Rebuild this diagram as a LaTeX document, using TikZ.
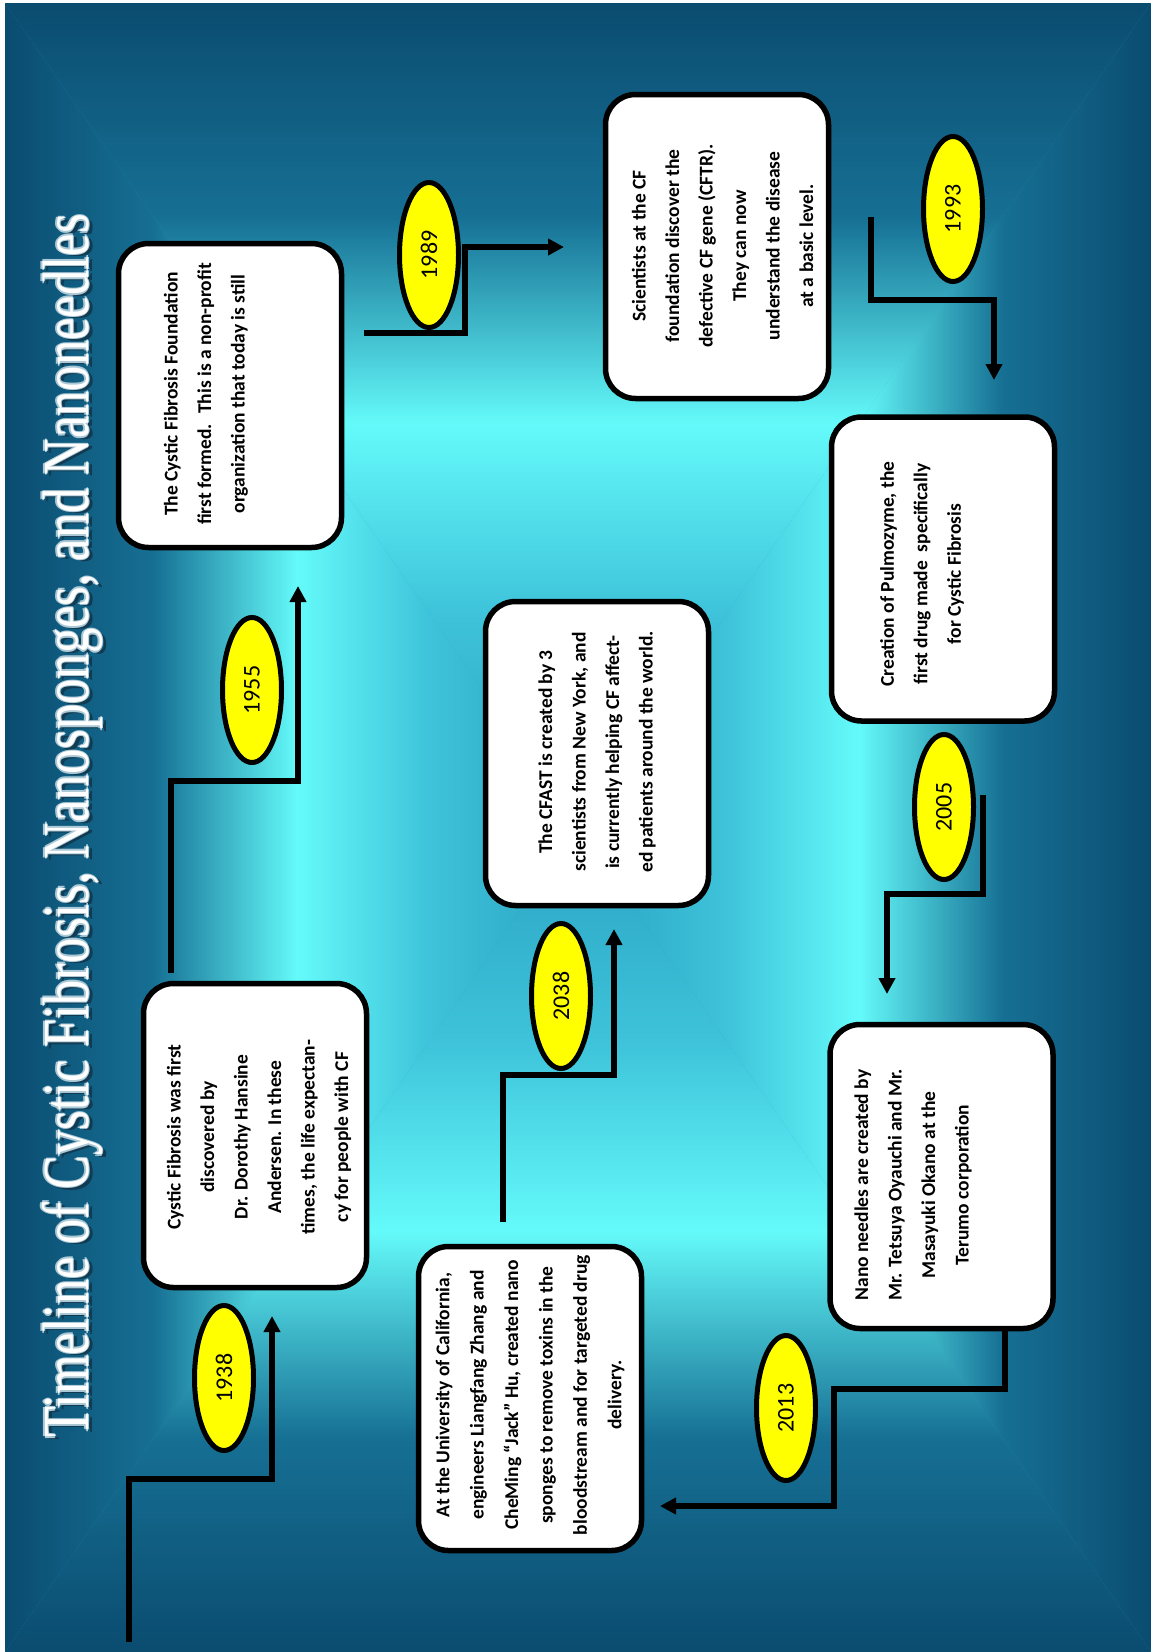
\documentclass[tikz,border=0pt]{standalone}
\usepackage{fontspec}
\usepackage{graphicx}
\usetikzlibrary{arrows.meta,shapes.geometric}
\newfontfamily\boxfont{Carlito}
\newfontfamily\titlefont{Liberation Serif}
\definecolor{bgEdge}{RGB}{10,76,112}
\definecolor{bgDeep}{RGB}{22,112,148}
\definecolor{bgCyan}{RGB}{100,250,250}
\definecolor{bgInner}{RGB}{62,195,218}
\definecolor{bgCenter}{RGB}{42,162,194}
\definecolor{titleShadow}{RGB}{18,58,80}
\definecolor{titleEdge}{RGB}{170,200,214}
\definecolor{yearYellow}{RGB}{255,255,0}
\pgfdeclareverticalshading{bgT}{100bp}{color(0bp)=(bgCenter); color(25bp)=(bgCenter); color(38bp)=(bgInner); color(49.5bp)=(bgCyan); color(62bp)=(bgDeep); color(75bp)=(bgEdge); color(100bp)=(bgEdge)}
\pgfdeclareverticalshading{bgB}{100bp}{color(0bp)=(bgEdge); color(25bp)=(bgEdge); color(38bp)=(bgDeep); color(50.5bp)=(bgCyan); color(62bp)=(bgInner); color(75bp)=(bgCenter); color(100bp)=(bgCenter)}
\pgfdeclarehorizontalshading{bgL}{100bp}{color(0bp)=(bgEdge); color(25bp)=(bgEdge); color(38bp)=(bgDeep); color(50.5bp)=(bgCyan); color(62bp)=(bgInner); color(75bp)=(bgCenter); color(100bp)=(bgCenter)}
\pgfdeclarehorizontalshading{bgR}{100bp}{color(0bp)=(bgCenter); color(25bp)=(bgCenter); color(38bp)=(bgInner); color(49.5bp)=(bgCyan); color(62bp)=(bgDeep); color(75bp)=(bgEdge); color(100bp)=(bgEdge)}
\newcommand{\titletext}{\scalebox{1}[1.3]{Timeline of Cystic Fibrosis, Nanosponges, and Nanoneedles}}
\begin{document}
\begin{tikzpicture}[x=1pt,y=-1pt,
  eventbox/.style={draw=black, line width=5.5pt, fill=white, rounded corners=30pt,
    rotate=90, minimum width=304pt, minimum height=223pt, inner sep=0pt},
  eventtext/.style={rotate=90, align=center, inner sep=0pt,
    font=\boxfont\bfseries\fontsize{19.5}{33.5}\selectfont},
  yearoval/.style={ellipse, draw=black, line width=5pt, fill=yearYellow, rotate=90,
    minimum width=145pt, minimum height=59pt, inner sep=0pt,
    font=\boxfont\fontsize{24}{24}\selectfont},
  conn/.style={line width=5.5pt, black, line join=miter},
  tip/.style={-{Triangle[length=16pt,width=16pt]}},
  titlestyle/.style={rotate=90, anchor=base, inner sep=0pt,
    font=\titlefont\fontsize{50.6}{60}\selectfont}]
\useasboundingbox (0,0) rectangle (1151,1652);
\fill[white] (0,0) rectangle (1151,1652);
% background rectangle gradient
\coordinate (TL) at (5,3);
\coordinate (TR) at (1151,3);
\coordinate (BL) at (5,1652);
\coordinate (BR) at (1151,1652);
\coordinate (CC) at (578,827.5);
\fill[bgCenter] (TL) rectangle (BR);
\shade[shading=bgT] (TL) -- (TR) -- (CC) -- cycle;
\shade[shading=bgB] (BL) -- (BR) -- (CC) -- cycle;
\shade[shading=bgL] (TL) -- (BL) -- (CC) -- cycle;
\shade[shading=bgR] (TR) -- (BR) -- (CC) -- cycle;
% title (shadow, bevel edge, face)
\node[titlestyle, text=titleShadow] (titleshadow) at (92,828.5) {\titletext};
\node[titlestyle, text=titleEdge] (titleedgeA) at (89.4,826) {\titletext};
\node[titlestyle, text=titleEdge] (titleedgeB) at (86.6,826) {\titletext};
\node[titlestyle, text=titleEdge] (titleedgeC) at (88,827.4) {\titletext};
\node[titlestyle, text=titleEdge] (titleedgeD) at (88,824.6) {\titletext};
\node[titlestyle, text=white] (title) at (88,826) {\titletext};
% boxes
\node[eventbox] (b1938) at (255,1135.5) {};
\node[eventbox] (b1955) at (230,395.5) {};
\node[eventbox] (b1989) at (717,246.5) {};
\node[eventbox] (b1993) at (943,569) {};
\node[eventbox] (b2005) at (941.5,1176.5) {};
\node[eventbox] (b2013) at (530,1398.5) {};
\node[eventbox] (b2038) at (597,753.5) {};
% box texts
\node[eventtext] (t1938) at (259,1137) {Cystic Fibrosis was first\\discovered by\\Dr. Dorothy Hansine\\Andersen. In these\\times, the life expectan-\\cy for people with CF};
\node[eventtext] (t1955) at (206,394) {The Cystic Fibrosis Foundation\\first formed.~ This is a non-profit\\organization that today is still};
\node[eventtext] (t1989) at (722.5,246) {Scientists at the CF\\foundation discover the\\defective CF gene (CFTR).\\They can now\\understand the disease\\at a basic level.};
\node[eventtext] (t1993) at (922,574) {Creation of Pulmozyme, the\\first drug made~ specifically\\for Cystic Fibrosis};
\node[eventtext] (t2005) at (913,1185) {Nano needles are created by\\Mr. Tetsuya Oyauchi and Mr.\\Masayuki Okano at the\\Terumo corporation};
\node[eventtext, font=\boxfont\bfseries\fontsize{19.5}{34.4}\selectfont] (t2013) at (530,1395) {At the University of California,\\engineers Liangfang Zhang and\\CheMing “Jack” Hu, created nano\\sponges to remove toxins in the\\bloodstream and for targeted drug\\delivery.};
\node[eventtext] (t2038) at (597,752) {The CFAST is created by 3\\scientists from New York, and\\is currently helping CF affect-\\ed patients around the world.};
% connectors
\coordinate (s1938) at (129,1642);
\coordinate (e1938) at (272,1316);
\draw[conn,tip] (s1938) -- (129,1479) -- (272,1479) -- (e1938);
\coordinate (s1955) at (171,973);
\coordinate (e1955) at (298,586);
\draw[conn,tip] (s1955) -- (171,781) -- (298,781) -- (e1955);
\coordinate (s1989) at (364,333);
\coordinate (e1989) at (564,247);
\draw[conn,tip] (s1989) -- (465,333) -- (465,247) -- (e1989);
\coordinate (s1993) at (871,217);
\coordinate (e1993) at (994,380);
\draw[conn,tip] (s1993) -- (871,300) -- (994,300) -- (e1993);
\coordinate (s2005) at (983,795);
\coordinate (e2005) at (887,994);
\draw[conn,tip] (s2005) -- (983,894) -- (887,894) -- (e2005);
\coordinate (s2013) at (1005,1327);
\coordinate (e2013) at (660,1506);
\draw[conn,tip] (s2013) -- (1005,1389) -- (834,1389) -- (834,1506) -- (e2013);
\coordinate (s2038) at (503,1222);
\coordinate (e2038) at (614,929);
\draw[conn,tip] (s2038) -- (503,1075) -- (614,1075) -- (e2038);
% year ovals
\node[yearoval] (y1938) at (224,1378) {1938};
\node[yearoval] (y1955) at (252,690) {1955};
\node[yearoval] (y1989) at (429,255) {1989};
\node[yearoval] (y1993) at (953,209) {1993};
\node[yearoval] (y2005) at (944,807) {2005};
\node[yearoval] (y2013) at (786,1408) {2013};
\node[yearoval] (y2038) at (561,996) {2038};
\end{tikzpicture}
\end{document}
